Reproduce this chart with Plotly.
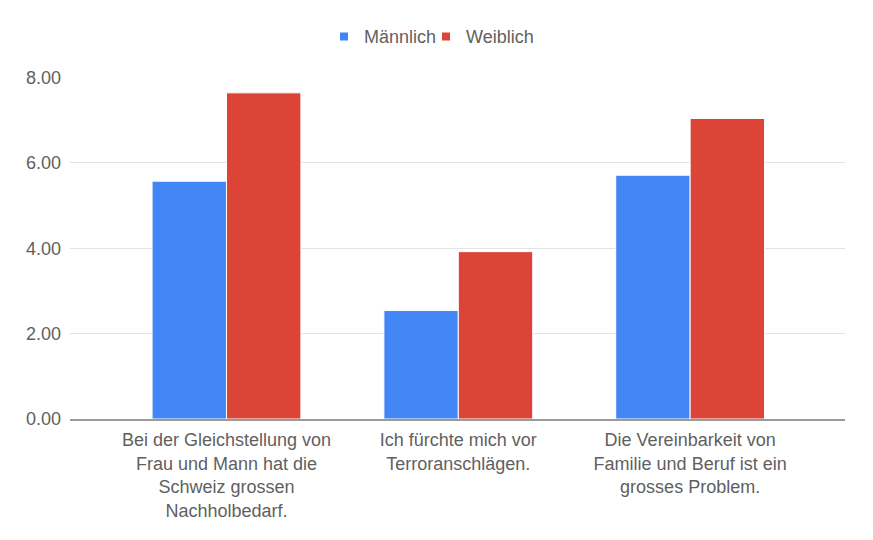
import plotly.graph_objects as go

categories = [
    "Bei der Gleichstellung von<br>Frau und Mann hat die<br>Schweiz grossen<br>Nachholbedarf.",
    "Ich fürchte mich vor<br>Terroranschlägen.",
    "Die Vereinbarkeit von<br>Familie und Beruf ist ein<br>grosses Problem.",
]
series_names = ["Männlich", "Weiblich"]
maennlich = [5.57, 2.54, 5.71]
weiblich = [7.64, 3.92, 7.04]
tick_vals = [0, 2, 4, 6, 8]
tick_text = ["0.00", "2.00", "4.00", "6.00", "8.00"]
colors = ["#4285f4", "#db4437"]

FONT = "Arial, Liberation Sans, sans-serif"
TXT = "#5f5f5f"

fig = go.Figure()
for name, vals, col in zip(series_names, [maennlich, weiblich], colors):
    fig.add_trace(go.Bar(name=name, x=categories, y=vals, showlegend=False,
                         marker=dict(color=col, line=dict(color="white", width=1))))
# legend proxies with small square symbols, one legend each for tight spacing
legend_ids = ["legend", "legend2"]
for name, col, lg in zip(series_names, colors, legend_ids):
    fig.add_trace(go.Scatter(name=name, x=[None], y=[None], mode="markers",
                             marker=dict(symbol="square", size=8, color=col),
                             showlegend=True, legend=lg))

legend_common = dict(orientation="h", xref="container", xanchor="left",
                     yref="container", y=0.981, yanchor="top",
                     font=dict(size=18, color=TXT), itemwidth=30,
                     bgcolor="rgba(0,0,0,0)")
fig.update_layout(
    width=873, height=540,
    margin=dict(l=62, r=36, t=67.5, b=128.5),
    paper_bgcolor="white", plot_bgcolor="white",
    barmode="group", bargap=0.358, bargroupgap=0,
    font=dict(family=FONT, size=18, color=TXT),
    legend=dict(x=316 / 873, **legend_common),
    legend2=dict(x=418 / 873, **legend_common),
    showlegend=True,
)
fig.update_xaxes(range=[-0.675, 2.668], showgrid=False, showline=True,
                 linecolor="#9a9a9a", linewidth=1.5, ticks="",
                 ticklabelstandoff=4,
                 tickfont=dict(size=18, color=TXT))
fig.update_yaxes(range=[0, 8], tickvals=tick_vals, ticktext=tick_text,
                 showgrid=True, gridcolor="#e3e3e3", gridwidth=1, zeroline=False,
                 ticks="", ticklabelstandoff=8,
                 tickfont=dict(size=18, color=TXT))

fig.write_html("out.html")
